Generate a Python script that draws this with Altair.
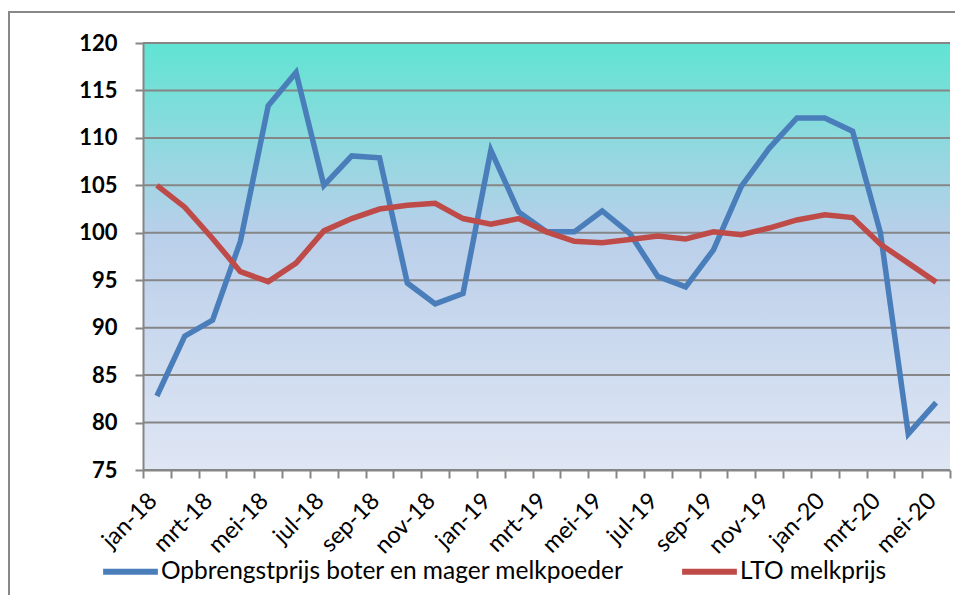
import altair as alt
import pandas as pd

months = ["jan-18","feb-18","mrt-18","apr-18","mei-18","jun-18","jul-18","aug-18","sep-18","okt-18","nov-18","dec-18",
          "jan-19","feb-19","mrt-19","apr-19","mei-19","jun-19","jul-19","aug-19","sep-19","okt-19","nov-19","dec-19",
          "jan-20","feb-20","mrt-20","apr-20","mei-20"]
opbrengst = [82.8, 89.1, 90.8, 99.1, 113.4, 116.9, 105.0, 108.1, 107.9, 94.7, 92.5, 93.6,
             108.7, 102.2, 100.1, 100.1, 102.3, 99.9, 95.4, 94.3, 98.2, 104.9, 108.9, 112.1,
             112.1, 110.7, 100.0, 78.8, 82.1]
lto = [105.0, 102.7, 99.4, 95.9, 94.85, 96.8, 100.2, 101.5, 102.5, 102.9, 103.1, 101.5,
       100.9, 101.5, 100.1, 99.1, 98.95, 99.3, 99.65, 99.35, 100.1, 99.8, 100.5, 101.35,
       101.9, 101.6, 98.8, 96.8, 94.8]
y_ticks = [75, 80, 85, 90, 95, 100, 105, 110, 115, 120]
series_names = ["Opbrengstprijs boter en mager melkpoeder", "LTO melkprijs"]
colors = ["#4A7EBB", "#BE4B48"]

W, H = 807, 427
FONT = "Lato"

df = pd.DataFrame({
    "maand": months * 2,
    "waarde": opbrengst + lto,
    "reeks": [series_names[0]] * len(months) + [series_names[1]] * len(months),
})
grid_df = pd.DataFrame({"y": y_ticks})

odd_months = "['jan','mrt','mei','jul','sep','nov']"

xscale = alt.Scale(type="band", domain=months, paddingInner=0, paddingOuter=0)
yscale = alt.Scale(domain=[75, 120], nice=False, zero=False)

x_axis = alt.Axis(title=None, tickBand="extent", grid=False, labelAngle=-45,
                  labelAlign="right", labelBaseline="middle",
                  labelExpr=f"indexof({odd_months}, split(datum.label, '-')[0]) >= 0 ? datum.label : ''",
                  labelFontSize=23.5, labelFont=FONT, labelColor="black", labelPadding=19,
                  labelOffset=-4,
                  domainColor="#868686", domainWidth=2, tickColor="#868686", tickWidth=2, tickSize=8,
                  labelOverlap=False, labelBound=False, zindex=1)
y_axis = alt.Axis(title=None, values=y_ticks, grid=False, labelFontSize=22, labelFont=FONT,
                  labelFontWeight="bold", labelColor="black", labelPadding=18,
                  domainColor="#868686", domainWidth=2, tickColor="#868686", tickWidth=2, tickSize=8,
                  zindex=1)

gradient = alt.Gradient(
    gradient="linear",
    stops=[alt.GradientStop(color="#60E4D3", offset=0),
           alt.GradientStop(color="#BACFEA", offset=0.45),
           alt.GradientStop(color="#DFE6F4", offset=1)],
    x1=0, x2=0, y1=0, y2=1,
)

border = alt.Chart(grid_df).mark_rect(fill=None, stroke="#888888", strokeWidth=2).encode(
    x=alt.value(-134), x2=alt.value(W + 11), y=alt.value(-31), y2=alt.value(H + 200)
)

bg = alt.Chart(grid_df).mark_rect(fill=gradient).encode(
    x=alt.value(0), x2=alt.value(W),
    y=alt.datum(120, scale=yscale), y2=alt.datum(75),
)

grid = alt.Chart(grid_df).mark_rule(color="#868686", strokeWidth=2).encode(
    y=alt.Y("y:Q", scale=yscale, axis=y_axis),
)

lines = alt.Chart(df).mark_line(strokeWidth=5.5, strokeJoin="miter").encode(
    x=alt.X("maand:N", scale=xscale, axis=x_axis, sort=months),
    y=alt.Y("waarde:Q", scale=yscale, axis=y_axis),
    color=alt.Color("reeks:N", scale=alt.Scale(domain=series_names, range=colors),
                    legend=alt.Legend(title=None, orient="none", direction="horizontal",
                                      legendX=-43, legendY=498,
                                      symbolType="stroke", symbolSize=3000, symbolStrokeWidth=6,
                                      labelFontSize=24.5, labelFont=FONT, labelColor="black",
                                      labelLimit=700, columnPadding=46, labelOffset=0)),
)

chart = alt.layer(border, bg, grid, lines).properties(
    width=W, height=H,
    padding={"left": 135, "top": 35, "right": 5, "bottom": 125},
    autosize=alt.AutoSizeParams(type="none"),
).configure_view(stroke=None)

chart.save("out.html", embed_options={"renderer": "svg", "actions": False})
